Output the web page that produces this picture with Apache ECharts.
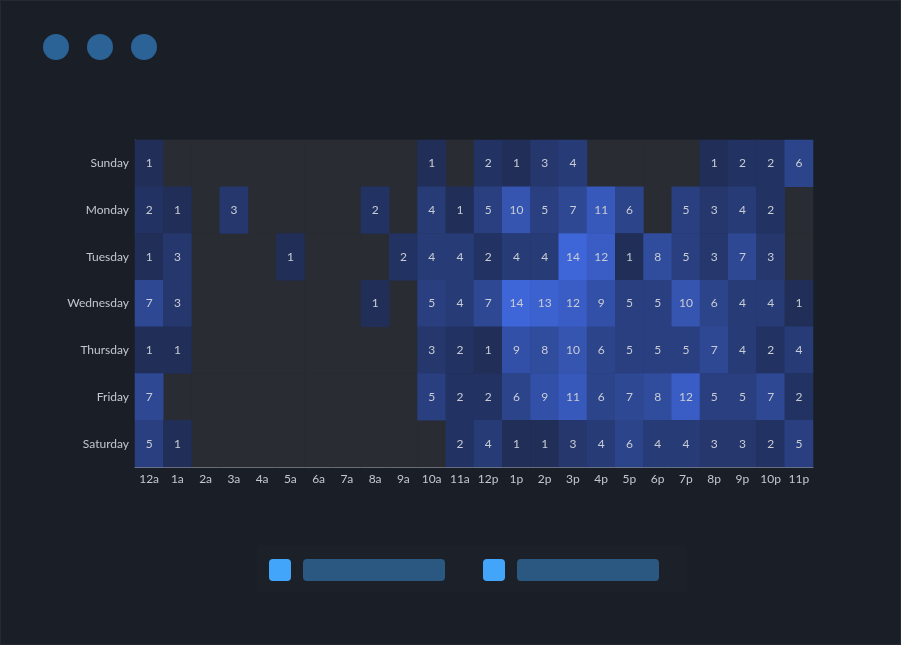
<!DOCTYPE html>
<html>
<head>
<meta charset="utf-8">
<script src="https://cdn.jsdelivr.net/npm/echarts@6/dist/echarts.min.js"></script>
<style>
html,body{margin:0;padding:0;background:#1a1f27;}
#main{width:901px;height:645px;box-sizing:border-box;border:1px solid #252a32;}
</style>
</head>
<body>
<div id="main"></div>
<script>
var hours = ['12a','1a','2a','3a','4a','5a','6a','7a','8a','9a','10a','11a','12p','1p','2p','3p','4p','5p','6p','7p','8p','9p','10p','11p'];
var days = ['Sunday','Monday','Tuesday','Wednesday','Thursday','Friday','Saturday'];
var sunday    = [1,0,0,0,0,0,0,0,0,0,1,0,2,1,3,4,0,0,0,0,1,2,2,6];
var monday    = [2,1,0,3,0,0,0,0,2,0,4,1,5,10,5,7,11,6,0,5,3,4,2,0];
var tuesday   = [1,3,0,0,0,1,0,0,0,2,4,4,2,4,4,14,12,1,8,5,3,7,3,0];
var wednesday = [7,3,0,0,0,0,0,0,1,0,5,4,7,14,13,12,9,5,5,10,6,4,4,1];
var thursday  = [1,1,0,0,0,0,0,0,0,0,3,2,1,9,8,10,6,5,5,5,7,4,2,4];
var friday    = [7,0,0,0,0,0,0,0,0,0,5,2,2,6,9,11,6,7,8,12,5,5,7,2];
var saturday  = [5,1,0,0,0,0,0,0,0,0,0,2,4,1,1,3,4,6,4,4,3,3,2,5];
var rows = [sunday,monday,tuesday,wednesday,thursday,friday,saturday];

var emptyCells = [], valueCells = [];
rows.forEach(function(r, d){
  r.forEach(function(v, h){
    if (v > 0) valueCells.push([h, d, v]); else emptyCells.push([h, d, v]);
  });
});

var chart = echarts.init(document.getElementById('main'));
var font = 'Lato';
chart.setOption({
  backgroundColor: '#1a1f27',
  animation: false,
  grid: {left: 134, right: 87, top: 139, bottom: 177},
  xAxis: {
    type: 'category', data: hours, splitArea: {show: false},
    axisLine: {lineStyle: {color: '#7d828c'}},
    axisTick: {length: 5, lineStyle: {color: '#7d828c'}},
    axisLabel: {color: '#c3c7cf', fontSize: 12, fontFamily: font, margin: 6}
  },
  yAxis: {
    type: 'category', data: days, inverse: true,
    axisLine: {lineStyle: {color: '#7d828c'}},
    axisTick: {length: 5, lineStyle: {color: '#7d828c'}},
    axisLabel: {color: '#c3c7cf', fontSize: 12, fontFamily: font, margin: 6}
  },
  visualMap: {
    show: false, type: 'continuous', min: 1, max: 14, dimension: 2, seriesIndex: 1,
    inRange: {color: ['#202e58', '#3e66d9']}
  },
  series: [{
    type: 'heatmap', data: emptyCells,
    label: {show: false},
    itemStyle: {color: '#292c32', borderWidth: 0}
  }, {
    type: 'heatmap', data: valueCells,
    label: {show: true, color: '#c8ccd4', fontSize: 12, fontFamily: font},
    itemStyle: {borderWidth: 0}
  }],
  graphic: [
    {type: 'circle', shape: {cx: 55, cy: 46, r: 13}, style: {fill: '#2c6397'}},
    {type: 'circle', shape: {cx: 99, cy: 46, r: 13}, style: {fill: '#2c6397'}},
    {type: 'circle', shape: {cx: 143, cy: 46, r: 13}, style: {fill: '#2c6397'}},
    {type: 'rect', shape: {x: 256, y: 544, width: 429, height: 47}, style: {fill: '#1c2129'}},
    {type: 'rect', shape: {x: 268, y: 558, width: 22, height: 22, r: 4}, style: {fill: '#42a5fa'}},
    {type: 'rect', shape: {x: 302, y: 558, width: 142, height: 22, r: 4}, style: {fill: '#2b5881'}},
    {type: 'rect', shape: {x: 482, y: 558, width: 22, height: 22, r: 4}, style: {fill: '#42a5fa'}},
    {type: 'rect', shape: {x: 516, y: 558, width: 142, height: 22, r: 4}, style: {fill: '#2b5881'}}
  ]
});
</script>
</body>
</html>
